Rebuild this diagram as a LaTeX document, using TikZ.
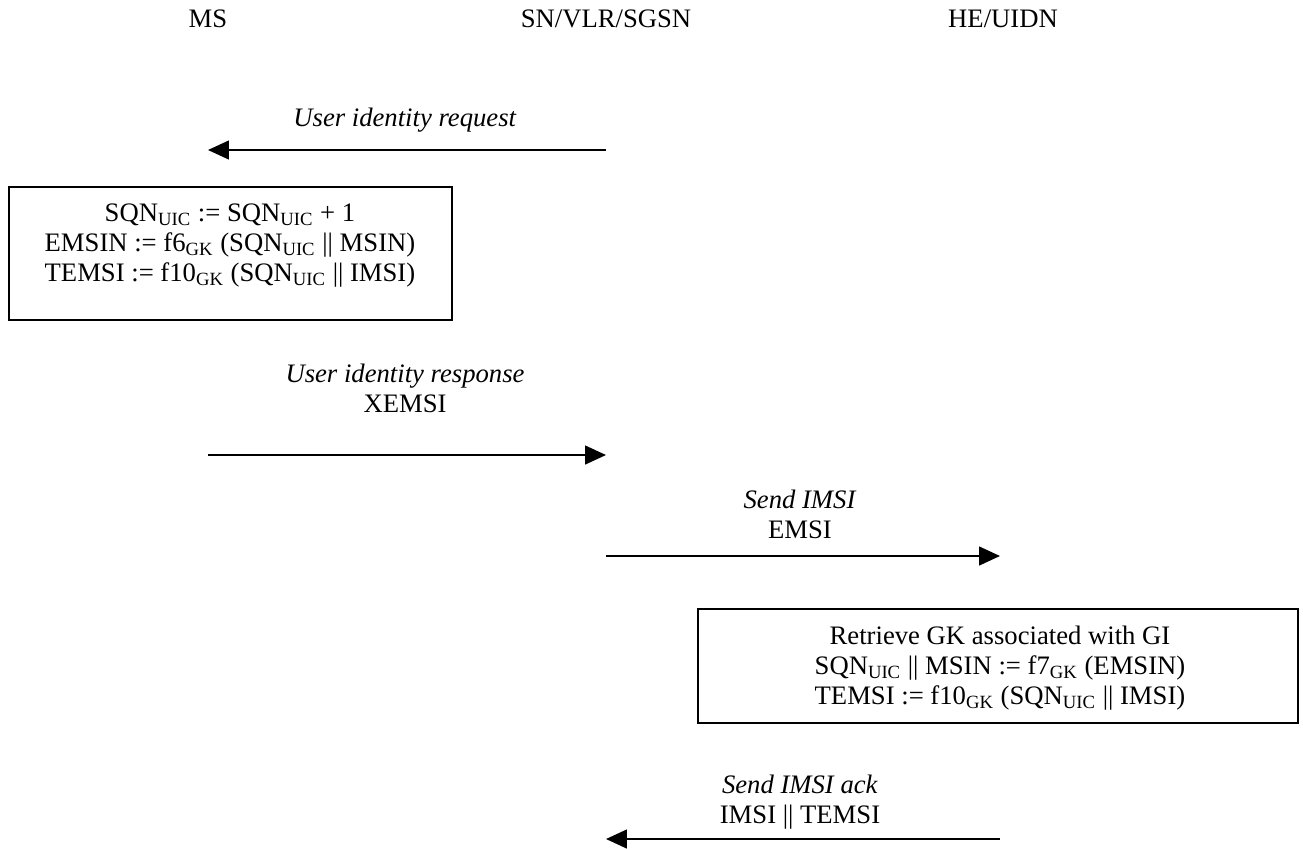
\documentclass[tikz,border=0pt]{standalone}
\usepackage{fontspec}
\setmainfont{Liberation Serif}
\usetikzlibrary{arrows.meta}
\newcommand{\sbs}[1]{\textsubscript{#1}}
\tikzset{
  lbl/.style={font=\fontsize{12.8}{14.4}\selectfont, align=center, inner sep=0pt},
  msg/.style={line width=0.9pt, -{Triangle[length=10pt,width=9pt]}},
  box/.style={draw, line width=0.9pt, inner sep=0pt},
}
\begin{document}
\begin{tikzpicture}[x=0.48pt,y=-0.48pt]
\useasboundingbox (0,0) rectangle (1303,848);
% headers
\node[lbl] (ms) at (208,19) {MS};
\node[lbl] (sn) at (606,19) {SN/VLR/SGSN};
\node[lbl] (he) at (1003,19) {HE/UIDN};
% message 1
\coordinate (a1s) at (606,150);
\coordinate (a1e) at (208,150);
\node[lbl] (l1) at (405,120) {\textit{User identity request}};
\draw[msg] (a1s) -- (a1e);
% box 1
\node[box, minimum width=212.6pt, minimum height=63.8pt] (b1) at (230.5,253.5) {};
\node[lbl] (t1) at (230,246) {SQN\sbs{UIC} := SQN\sbs{UIC} + 1\\
EMSIN := f6\sbs{GK} (SQN\sbs{UIC} || MSIN)\\
TEMSI := f10\sbs{GK} (SQN\sbs{UIC} || IMSI)};
% message 2
\coordinate (a2s) at (208,455);
\coordinate (a2e) at (606,455);
\node[lbl] (l2) at (405,388) {\textit{User identity response}\\XEMSI};
\draw[msg] (a2s) -- (a2e);
% message 3
\coordinate (a3s) at (606,556);
\coordinate (a3e) at (1000,556);
\node[lbl] (l3) at (800,514) {\textit{Send IMSI}\\EMSI};
\draw[msg] (a3s) -- (a3e);
% box 2
\node[box, minimum width=288pt, minimum height=54.7pt] (b2) at (998,666) {};
\node[lbl] (t2) at (1000,668) {Retrieve GK associated with GI\\
SQN\sbs{UIC} || MSIN := f7\sbs{GK} (EMSIN)\\
TEMSI := f10\sbs{GK} (SQN\sbs{UIC} || IMSI)};
% message 4
\coordinate (a4s) at (1000,839);
\coordinate (a4e) at (606,839);
\node[lbl] (l4) at (800,802) {\textit{Send IMSI ack}\\IMSI || TEMSI};
\draw[msg] (a4s) -- (a4e);
\end{tikzpicture}
\end{document}
